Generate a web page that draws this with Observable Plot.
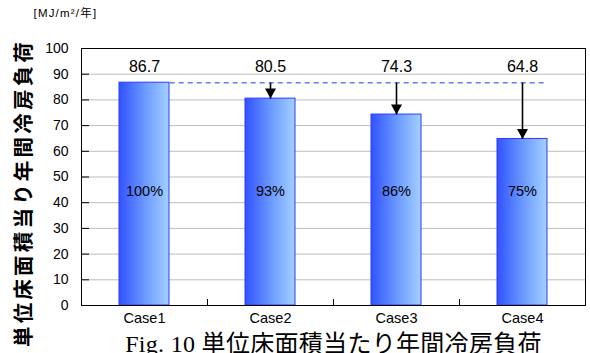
<!DOCTYPE html>
<html>
<head>
<meta charset="utf-8">
<script src="https://cdn.jsdelivr.net/npm/d3@7"></script>
<script src="https://cdn.jsdelivr.net/npm/@observablehq/plot@0.6"></script>
<style>
  body { margin: 0; background: #fff; }
</style>
</head>
<body>
<div id="chart"></div>
<script>
// Annual cooling load per unit floor area for each case
const cases = ["Case1", "Case2", "Case3", "Case4"];
const loads = [86.7, 80.5, 74.3, 64.8];
const yTicks = [0, 10, 20, 30, 40, 50, 60, 70, 80, 90, 100];
const unitLabel = "[MJ/m²/年]";
const yTitle = "単位床面積当り年間冷房負荷";
const caption = "Fig. 10 単位床面積当たり年間冷房負荷";

const baseLoad = loads[0];
const rows = cases.map((c, i) => ({
  case: c,
  load: loads[i],
  ratio: Math.round(loads[i] / baseLoad * 100) + "%"
}));

const W = 590, H = 353;
const mL = 81, mR = 5, mT = 48, mB = 48;
const plotW = W - mL - mR, plotH = H - mT - mB;
const step = plotW / cases.length;
const barHalf = step * 0.4 / 2;

const sans = "'Liberation Sans', Arial, 'Noto Sans CJK JP', sans-serif";
const serif = "'Liberation Serif', 'Times New Roman', 'Noto Sans CJK JP', serif";

// filled arrowhead pointing down, tip at the origin
const downHead = {
  draw(ctx) {
    ctx.moveTo(0, 0);
    ctx.lineTo(-5.5, -10);
    ctx.lineTo(5.5, -10);
    ctx.closePath();
  }
};

// horizontal blue gradient used by the bars
const gradientDefs = () => {
  const defs = d3.create("svg:defs");
  const g = defs.append("linearGradient")
    .attr("id", "barFade")
    .attr("x1", 0).attr("x2", 1).attr("y1", 0).attr("y2", 0);
  g.append("stop").attr("offset", "0%").attr("stop-color", "#3152ff");
  g.append("stop").attr("offset", "55%").attr("stop-color", "#6f9dff");
  g.append("stop").attr("offset", "100%").attr("stop-color", "#a3d0ff");
  return defs.node();
};

const chart = Plot.plot({
  width: W,
  height: H,
  marginLeft: mL,
  marginRight: mR,
  marginTop: mT,
  marginBottom: mB,
  style: { fontFamily: sans, fontSize: "13px", background: "#fff", overflow: "visible" },
  x: { type: "band", domain: cases, paddingInner: 0.6, paddingOuter: 0.3, label: null },
  y: { domain: [0, 100], label: null },
  marks: [
    gradientDefs,
    Plot.gridY(yTicks, { stroke: "#bdbdbd", strokeOpacity: 1 }),
    Plot.barY(rows, { x: "case", y: "load", fill: "url(#barFade)", stroke: "#2a3cff", strokeWidth: 1 }),
    // reference level of Case1
    Plot.link([baseLoad], {
      x1: () => cases[0], x2: () => cases[cases.length - 1],
      y1: d => d, y2: d => d,
      dx: barHalf,
      stroke: "#5f7ff0", strokeWidth: 1.4, strokeDasharray: "5,4"
    }),
    // reduction arrows
    Plot.link(rows.slice(1), {
      x1: "case", x2: "case", y1: () => baseLoad, y2: "load",
      stroke: "black", strokeWidth: 1.6
    }),
    Plot.dot(rows.slice(1), {
      x: "case", y: "load", symbol: downHead, fill: "black", stroke: "none", r: 4
    }),
    Plot.text(rows, { x: "case", text: d => d.load.toFixed(1), frameAnchor: "top", dy: 12, fontSize: 16 }),
    Plot.text(rows, { x: "case", text: "ratio", frameAnchor: "bottom", dy: -110, fontSize: 14.5 }),
    // inward tick marks
    Plot.tickY(yTicks, { y: d => d, insetRight: plotW - 8, stroke: "black" }),
    Plot.tickX(cases.slice(1), { x: d => d, dx: -step / 2, insetTop: plotH - 6, stroke: "black" }),
    Plot.frame({ stroke: "black" }),
    Plot.axisY({ ticks: yTicks, tickSize: 0, tickPadding: 13, fontSize: 14, label: null }),
    Plot.axisX({ tickSize: 0, tickPadding: 7, fontSize: 14.5, label: null }),
    // titles
    Plot.text([yTitle], {
      text: d => d, frameAnchor: "left", textAnchor: "middle", lineAnchor: "middle",
      dx: -57, dy: 16, rotate: -90,
      fontSize: 20.5, fontWeight: "bold"
    }),
    Plot.text([unitLabel], {
      text: d => d, frameAnchor: "top-left", textAnchor: "start", lineAnchor: "middle",
      dx: -48, dy: -35, fontSize: 11.5
    }),
    Plot.text([caption], {
      text: d => d, frameAnchor: "bottom", textAnchor: "middle", lineAnchor: "middle",
      dy: 39, fontSize: 24, fontFamily: serif
    })
  ]
});

const svg = d3.select(chart);
svg.selectAll("text").filter(function () { return this.textContent === yTitle; })
  .style("letter-spacing", "3.2px");
svg.selectAll("text").filter(function () { return this.textContent === unitLabel; })
  .style("letter-spacing", "1.2px");
svg.selectAll("text").filter(function () { return this.textContent === caption; })
  .style("letter-spacing", "0.3px");

document.getElementById("chart").appendChild(chart);
</script>
</body>
</html>
